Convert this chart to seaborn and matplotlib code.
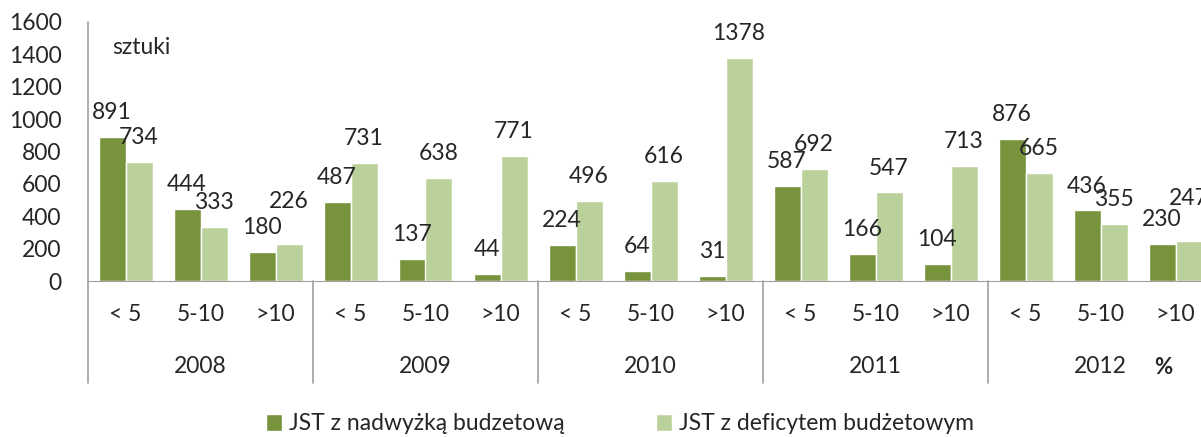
import pandas as pd
import seaborn as sns
import matplotlib.pyplot as plt

# --- data ---
years = ['2008', '2009', '2010', '2011', '2012']
ranges = ['< 5', '5-10', '>10']
surplus = [891, 444, 180, 487, 137, 44, 224, 64, 31, 587, 166, 104, 876, 436, 230]
deficit = [734, 333, 226, 731, 638, 771, 496, 616, 1378, 692, 547, 713, 665, 355, 247]
series = ['JST z nadwyżką budzetową', 'JST z deficytem budżetowym']
colors = ['#77933C', '#BBD19B']

keys = [f'{y} {r}' for y in years for r in ranges]
df = pd.DataFrame({
    'key': keys * 2,
    'value': surplus + deficit,
    'series': [series[0]] * len(keys) + [series[1]] * len(keys),
})

sns.set_style('white')
plt.rcParams['font.family'] = ['Lato', 'DejaVu Sans']
plt.rcParams['font.size'] = 16.5

fig = plt.figure(figsize=(12.01, 4.37), dpi=100)
ax = fig.add_axes([88 / 1201, 156 / 437, 1125 / 1201, 259 / 437])

sns.barplot(data=df, x='key', y='value', hue='series', order=keys,
            palette=colors, width=0.72, gap=0, saturation=1, ax=ax, legend=True)

labels_dark = ax.bar_label(ax.containers[0], padding=10, fontsize=16.5)
labels_light = ax.bar_label(ax.containers[1], padding=10, fontsize=16.5)
# lift the light label when it would collide with its neighbour (as Excel does)
for s, d, ann in zip(surplus, deficit, labels_light):
    if 0 <= d - s < 100:
        ann.xyann = (0, 23)

ax.set_xlim(-0.5, len(keys) - 0.5)
ax.set_ylim(0, 1600)
ax.set_yticks(range(0, 1601, 200))
ax.tick_params(axis='y', length=0, pad=19, labelsize=16.5)
ax.set_xticks([])
ax.set_xlabel('')
ax.set_ylabel('')
for s in ['top', 'right', 'left']:
    ax.spines[s].set_visible(False)
ax.spines['bottom'].set_color('#A0A0A0')

# two-level category axis
tr = ax.get_xaxis_transform()
for i, k in enumerate(keys):
    ax.text(i, -0.131, k.split(' ', 1)[1], transform=tr, ha='center', va='center', fontsize=16.5)
for j, y in enumerate(years):
    ax.text(j * 3 + 1, -0.332, y, transform=tr, ha='center', va='center', fontsize=16.5)
for j in range(len(years) + 1):
    top = 1.0 if j == 0 else 0
    ax.plot([j * 3 - 0.5] * 2, [top, -0.394], transform=tr, color='#A0A0A0',
            lw=1.2, clip_on=False)

fig.text(1163 / 1201, 1 - 368 / 437, '%', ha='center', va='center',
         fontsize=16, fontweight='bold')
ax.text(112 / 1201, 1 - 47 / 437, 'sztuki', transform=fig.transFigure,
        ha='left', va='center', fontsize=16.5)

h, l = ax.get_legend_handles_labels()
ax.get_legend().remove()
fig.legend(h, l, loc='center', bbox_to_anchor=(620 / 1201, 1 - 424 / 437),
           ncol=2, frameon=False, handlelength=0.7, handleheight=0.7,
           handletextpad=0.3, columnspacing=4, fontsize=16.5)

fig.savefig('out.png', dpi=100)
